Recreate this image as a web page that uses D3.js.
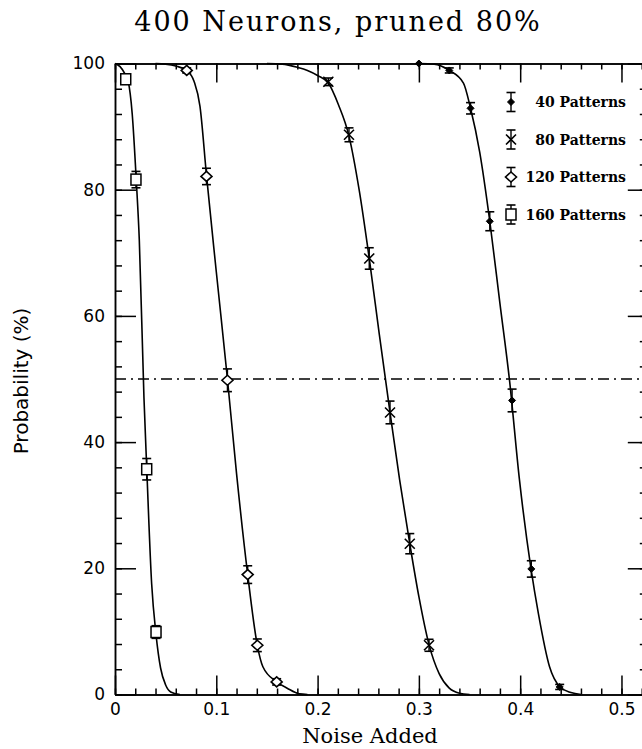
<!DOCTYPE html>
<html>
<head>
<meta charset="utf-8">
<script src="https://cdn.jsdelivr.net/npm/d3@7"></script>
<style>
  body { margin: 0; background: #fff; }
  svg { display: block; }
  .axis path, .axis line { stroke: #000; stroke-width: 1.5; }
  .tick text { font-family: "DejaVu Sans", sans-serif; font-size: 17px; fill: #000; }
</style>
</head>
<body>
<svg id="chart"></svg>
<script>
// measured points (noise added, probability %, error bar)
const noise40 = [0.300, 0.330, 0.351, 0.370, 0.392, 0.411, 0.439];
const prob40  = [100, 98.9, 92.9, 75.0, 46.6, 19.9, 1.2];
const err40   = [0, 0.4, 0.9, 1.5, 1.8, 1.3, 0.4];

const noise80 = [0.2106, 0.231, 0.251, 0.2715, 0.291, 0.310];
const prob80  = [97.1, 88.7, 69.1, 44.7, 23.9, 7.8];
const err80   = [0.6, 1.1, 1.7, 1.8, 1.6, 0.95];

const noise120 = [0.0708, 0.0903, 0.111, 0.131, 0.1405, 0.1596];
const prob120  = [98.9, 82.1, 49.8, 19.0, 7.8, 2.0];
const err120   = [0.4, 1.3, 1.8, 1.4, 1.0, 0.5];

const noise160 = [0.0106, 0.0207, 0.0313, 0.0405];
const prob160  = [97.5, 81.6, 35.7, 9.9];
const err160   = [0.6, 1.3, 1.7, 1.0];

// fitted curves
const fitX40 = [0.30, 0.315, 0.330, 0.344, 0.351, 0.360, 0.370, 0.380, 0.3894, 0.3993, 0.4107, 0.4179, 0.429, 0.4393, 0.450, 0.460];
const fitY40 = [100, 99.9, 98.9, 96.9, 92.9, 86, 75, 62, 49.9, 34, 19.9, 12.9, 4.4, 1.2, 0.3, 0];

const fitX80 = [0.150, 0.165, 0.180, 0.190, 0.200, 0.2106, 0.2205, 0.231, 0.241, 0.251, 0.261, 0.2715, 0.281, 0.291, 0.300, 0.310, 0.320, 0.330, 0.340, 0.350];
const fitY80 = [100, 99.9, 99.4, 98.9, 98.1, 96.9, 93.5, 88.5, 80, 69.1, 57, 44.7, 34, 23.9, 15.5, 7.9, 3.3, 1.0, 0.2, 0];

const fitX120 = [0.040, 0.050, 0.060, 0.0708, 0.078, 0.0839, 0.0903, 0.100, 0.111, 0.120, 0.131, 0.1405, 0.146, 0.1596, 0.170, 0.182, 0.190];
const fitY120 = [100, 99.9, 99.6, 98.9, 97.2, 93.2, 82.3, 67, 50, 35, 19, 7.8, 4.4, 2.0, 1.0, 0.1, 0];

const fitX160 = [0, 0.005, 0.010, 0.013, 0.017, 0.021, 0.024, 0.0286, 0.0313, 0.0362, 0.0405, 0.045, 0.050, 0.055, 0.064];
const fitY160 = [100, 99.5, 98.3, 97.2, 92, 81.5, 72, 47, 36, 17.5, 9.5, 4.2, 1.5, 0.4, 0];

const legendLabels = ["40 Patterns", "80 Patterns", "120 Patterns", "160 Patterns"];
const xTicks = [0, 0.1, 0.2, 0.3, 0.4, 0.5];
const yTicks = [0, 20, 40, 60, 80, 100];
const halfLine = 50;

const W = 642, H = 749;
const svg = d3.select("#chart").attr("width", W).attr("height", H);

const x = d3.scaleLinear().domain([0, 0.525]).range([115, 646.8]);
const y = d3.scaleLinear().domain([0, 100]).range([694.5, 63.5]);

const minorX = d3.range(0, 0.5251, 0.02);
const minorY = d3.range(0, 100.1, 4);

// minor ticks
svg.append("g").attr("class", "axis").attr("transform", `translate(0,${y(0)})`)
  .call(d3.axisBottom(x).tickValues(minorX).tickSize(-6).tickSizeOuter(0).tickFormat(""));
svg.append("g").attr("class", "axis").attr("transform", `translate(0,${y(100)})`)
  .call(d3.axisTop(x).tickValues(minorX).tickSize(-6).tickSizeOuter(0).tickFormat(""));
svg.append("g").attr("class", "axis").attr("transform", `translate(${x(0)},0)`)
  .call(d3.axisLeft(y).tickValues(minorY).tickSize(-7).tickSizeOuter(0).tickFormat(""));
svg.append("g").attr("class", "axis").attr("transform", `translate(${x(0.525)},0)`)
  .call(d3.axisRight(y).tickValues(minorY).tickSize(-7).tickSizeOuter(0).tickFormat(""));

// major ticks + labels
svg.append("g").attr("class", "axis").attr("transform", `translate(0,${y(0)})`)
  .call(d3.axisBottom(x).tickValues(xTicks).tickSize(-19).tickSizeOuter(0).tickPadding(8).tickFormat(d => d === 0 ? "0" : d3.format(".1f")(d)));
svg.append("g").attr("class", "axis").attr("transform", `translate(0,${y(100)})`)
  .call(d3.axisTop(x).tickValues(xTicks).tickSize(-19).tickSizeOuter(0).tickFormat(""));
svg.append("g").attr("class", "axis").attr("transform", `translate(${x(0)},0)`)
  .call(d3.axisLeft(y).tickValues(yTicks).tickSize(-21).tickSizeOuter(0).tickPadding(10));
svg.append("g").attr("class", "axis").attr("transform", `translate(${x(0.525)},0)`)
  .call(d3.axisRight(y).tickValues(yTicks).tickSize(-19).tickSizeOuter(0).tickFormat(""));

// 50% reference line
svg.append("line")
  .attr("x1", x(0)).attr("x2", x(0.525))
  .attr("y1", y(halfLine)).attr("y2", y(halfLine))
  .attr("stroke", "#000").attr("stroke-width", 1.3)
  .attr("stroke-dasharray", "11,5,2,5");

const line = d3.line()
  .x(d => x(d[0]))
  .y(d => y(d[1]))
  .curve(d3.curveMonotoneX);

const fits = [[fitX40, fitY40], [fitX80, fitY80], [fitX120, fitY120], [fitX160, fitY160]];
fits.forEach(([fx, fy]) => {
  svg.append("path")
    .attr("d", line(fx.map((v, i) => [v, fy[i]])))
    .attr("fill", "none")
    .attr("stroke", "#000")
    .attr("stroke-width", 1.6);
});

// marker shapes
function drawMarker(g, kind, cx, cy) {
  if (kind === 0) {
    g.append("path").attr("d", `M${cx},${cy-3.5}L${cx+3.5},${cy}L${cx},${cy+3.5}L${cx-3.5},${cy}Z`)
      .attr("fill", "#000").attr("stroke", "#000").attr("stroke-width", 1);
  } else if (kind === 1) {
    g.append("path").attr("d", `M${cx-5},${cy-5}L${cx+5},${cy+5}M${cx-5},${cy+5}L${cx+5},${cy-5}`)
      .attr("stroke", "#000").attr("stroke-width", 1.6);
  } else if (kind === 2) {
    g.append("path").attr("d", `M${cx},${cy-5}L${cx+5.5},${cy}L${cx},${cy+5}L${cx-5.5},${cy}Z`)
      .attr("fill", "#fff").attr("stroke", "#000").attr("stroke-width", 1.6);
  } else {
    g.append("rect").attr("x", cx - 5).attr("y", cy - 5.5).attr("width", 10).attr("height", 11)
      .attr("fill", "#fff").attr("stroke", "#000").attr("stroke-width", 1.5);
  }
}

function drawErr(g, cx, y0, y1) {
  g.append("line").attr("x1", cx).attr("x2", cx).attr("y1", y0).attr("y2", y1)
    .attr("stroke", "#000").attr("stroke-width", 1.4);
  [y0, y1].forEach(v => g.append("line")
    .attr("x1", cx - 4.5).attr("x2", cx + 4.5).attr("y1", v).attr("y2", v)
    .attr("stroke", "#000").attr("stroke-width", 1.6));
}

const series = [
  [noise40, prob40, err40],
  [noise80, prob80, err80],
  [noise120, prob120, err120],
  [noise160, prob160, err160]
];

const marks = svg.append("g");
series.forEach(([nx, py, pe], k) => {
  nx.forEach((v, i) => {
    const cx = x(v);
    if (pe[i] > 0) drawErr(marks, cx, y(py[i] + pe[i]), y(py[i] - pe[i]));
    drawMarker(marks, k, cx, y(py[i]));
  });
});

// legend
const legend = svg.append("g");
legendLabels.forEach((lab, k) => {
  const ly = 102 + k * 37.5;
  drawErr(legend, 511, ly - 9.5, ly + 9.5);
  drawMarker(legend, k, 511, ly);
  legend.append("text")
    .attr("x", 626).attr("y", ly + 5)
    .attr("text-anchor", "end")
    .attr("font-family", "DejaVu Serif, serif")
    .attr("font-weight", "bold")
    .attr("font-size", 14)
    .text(lab);
});

// titles
svg.append("text")
  .attr("x", 338).attr("y", 31)
  .attr("text-anchor", "middle")
  .attr("font-family", "DejaVu Serif, serif")
  .attr("font-size", 27)
  .attr("letter-spacing", 2)
  .text("400 Neurons, pruned 80%");

svg.append("text")
  .attr("x", 370).attr("y", 743)
  .attr("text-anchor", "middle")
  .attr("font-family", "DejaVu Serif, serif")
  .attr("font-size", 21)
  .text("Noise Added");

svg.append("text")
  .attr("transform", `translate(28,${y(50) + 2}) rotate(-90)`)
  .attr("text-anchor", "middle")
  .attr("font-family", "DejaVu Sans, sans-serif")
  .attr("font-size", 20)
  .text("Probability (%)");
</script>
</body>
</html>
